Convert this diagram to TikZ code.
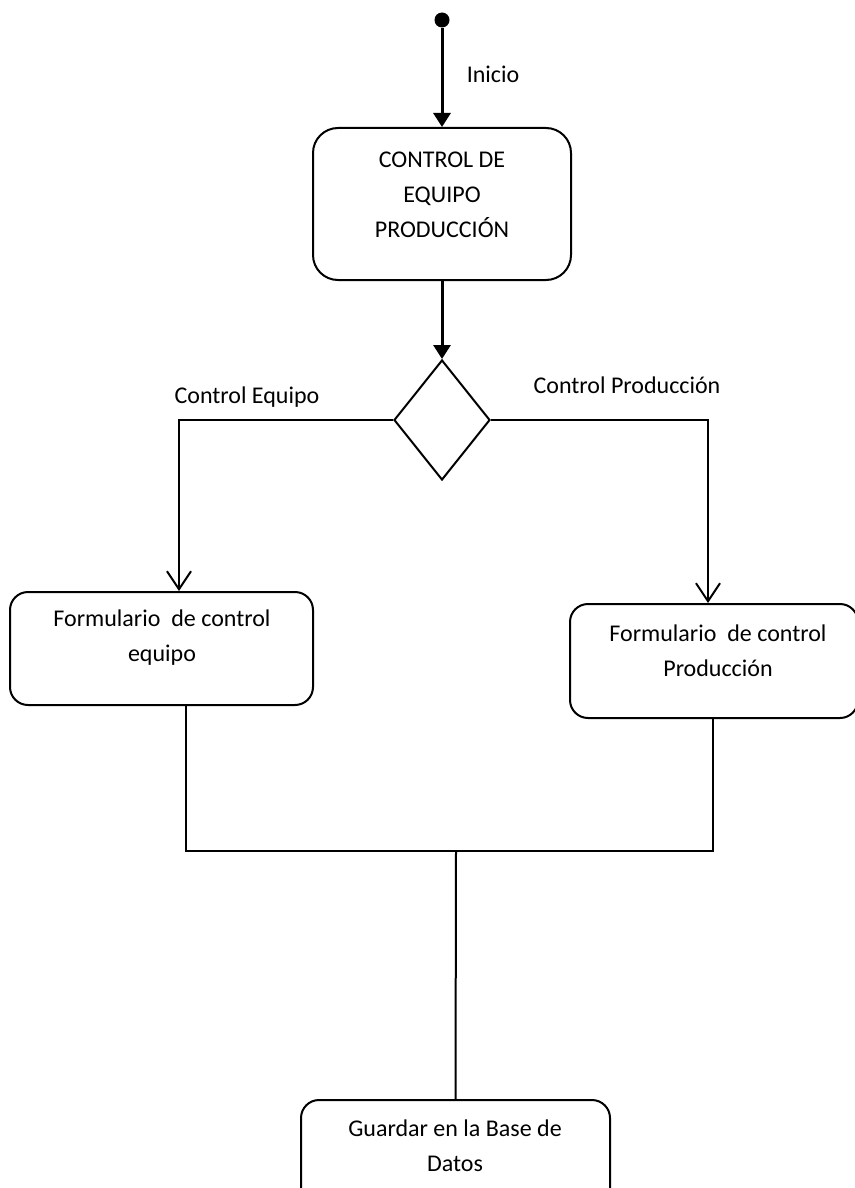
\documentclass[tikz,border=0pt]{standalone}
\usepackage{fontspec}
\setmainfont{Carlito}
\usetikzlibrary{shapes.geometric,arrows.meta}

\tikzset{
  txt/.style={font=\fontsize{24}{35}\selectfont, align=center, inner sep=0pt},
  roundbox/.style={draw, line width=2pt, rounded corners=#1, inner sep=0pt},
  flowthick/.style={line width=3pt, -{Triangle[length=14pt,width=17pt]}},
  flowopen/.style={line width=2pt, -{Straight Barb[length=18pt,width=24pt,line width=2pt]}},
  plainline/.style={line width=2pt},
}

\begin{document}
\begin{tikzpicture}[x=1pt,y=-1pt]
  \useasboundingbox (0,0) rectangle (854,1188);

  % start point
  \node[circle, fill=black, minimum size=15pt, inner sep=0pt] (s) at (442,20) {};
  \node[txt] (lini) at (493,74) {Inicio};

  % main activity
  \node[roundbox=25pt, minimum width=258pt, minimum height=152pt] (b1) at (442,204) {};
  \node[txt] (b1t) at (442,195) {CONTROL DE\\EQUIPO\\PRODUCCIÓN};

  % decision
  \node[draw, diamond, line width=2pt, minimum width=96pt, minimum height=120pt, inner sep=0pt] (d) at (442,420) {};

  % branch activities
  \node[roundbox=18pt, minimum width=303pt, minimum height=113pt] (bl) at (161.5,648.5) {};
  \node[txt] (blt) at (162,638) {Formulario\ \ de control\\equipo};
  \node[roundbox=18pt, minimum width=288pt, minimum height=114pt] (br) at (714,661) {};
  \node[txt] (brt) at (718,651) {Formulario\ \ de control\\Producción};

  % final activity
  \node[roundbox=18pt, minimum width=309pt, minimum height=110pt] (bb) at (455.5,1155) {};
  \node[txt] (bbt) at (455,1146) {Guardar en la Base de\\Datos};

  % branch labels
  \node[txt] (lce) at (247,397) {Control Equipo};
  \node[txt] (lcp) at (627,385) {Control Producción};

  % join point
  \coordinate (j) at (456,851);

  % connectors
  \draw[flowthick] (s) -- (b1.north);
  \draw[flowthick] (b1.south) -- (d.north);
  \draw[flowopen] (d.west) -| ([xshift=17.5pt]bl.north);
  \draw[flowopen] (d.east) -| ([xshift=-6pt]br.north);
  \draw[plainline] ([xshift=24.5pt]bl.south) |- (j) -| ([xshift=-1pt]br.south);
  \draw[plainline] (j) -- (bb.north);
\end{tikzpicture}
\end{document}
